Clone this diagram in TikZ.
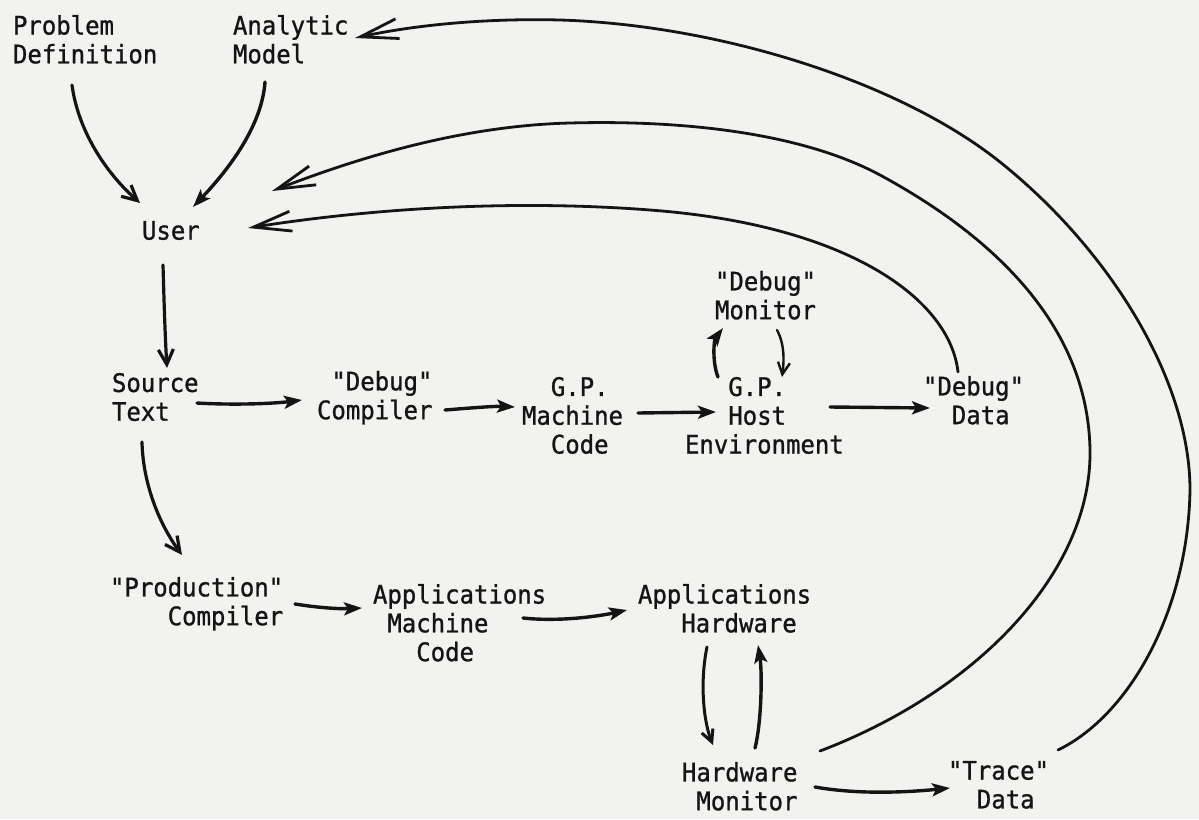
\documentclass[tikz,border=0pt]{standalone}
\usepackage{fontspec}
\newfontfamily\twfont[FakeStretch=0.94,FakeBold=1]{DejaVu Sans Mono}
\usetikzlibrary{arrows.meta,calc}
\definecolor{paper}{RGB}{242,242,240}
\definecolor{ink}{RGB}{20,20,20}
\newcommand{\chsp}[1]{\hphantom{#1}}
\tikzset{
  lbl/.style={font=\twfont\fontsize{25.5}{28.8}\selectfont, text=ink, align=left,
    anchor=north west, inner sep=0pt, outer sep=0pt},
  sarrow/.style={draw=ink, line width=3.4pt, line cap=round,
    -{Stealth[length=18pt,width=13pt,inset=4pt]}},
  barrow/.style={draw=ink, line width=3.2pt, line cap=round,
    -{Straight Barb[length=15pt,width=15pt]}},
  tarrow/.style={draw=ink, line width=2.4pt, line cap=round,
    -{Straight Barb[length=12pt,width=12pt]}},
  longcurve/.style={draw=ink, line width=2.8pt, line cap=round,
    -{Straight Barb[length=38pt,width=20pt]}},
}
\begin{document}
\begin{tikzpicture}[x=1pt,y=-1pt]
\path[fill=paper,use as bounding box] (0,0) rectangle (1199,819);

% nodes
\node[lbl] (pd)    at (13,15)  {Problem\\Definition};
\node[lbl] (am)    at (233,15) {Analytic\\Model};
\node[lbl] (user)  at (142,221) {User};
\node[lbl] (src)   at (112,373) {Source\\Text};
\node[lbl] (dc)    at (317,371) {\chsp{x}"Debug"\\Compiler};
\node[lbl] (gpm)   at (522,377) {\chsp{xx}G.P.\\Machine\\\chsp{xx}Code};
\node[lbl] (dmon)  at (715,271) {"Debug"\\Monitor};
\node[lbl] (host)  at (685,377) {\chsp{xxx}G.P.\\\chsp{xxx}Host\\Environment};
\node[lbl] (ddata) at (923,376) {"Debug"\\\chsp{xx}Data};
\node[lbl] (prod)  at (110,577) {"Production"\\\chsp{xxxx}Compiler};
\node[lbl] (amc)   at (373,584) {Applications\\\chsp{x}Machine\\\chsp{xxx}Code};
\node[lbl] (ahw)   at (638,584) {Applications\\\chsp{xxx}Hardware};
\node[lbl] (hmon)  at (682,762) {Hardware\\\chsp{x}Monitor};
\node[lbl] (trace) at (948,761) {"Trace"\\\chsp{xx}Data};

% short connectors
\draw[barrow] ($(pd.north west)+(59,70)$) .. controls (78,130) and (105,172) .. ($(user.north west)+(-2,-18)$);
\draw[sarrow] ($(am.north west)+(32,67)$) .. controls (262,125) and (230,168) .. ($(user.north west)+(51,-14)$);
\draw[barrow] ($(user.north west)+(21,44)$) .. controls (164,300) and (165,335) .. ($(src.north west)+(55,-5)$);
\draw[sarrow] ($(src.north west)+(85,30)$) .. controls (230,405) and (270,404) .. ($(dc.north west)+(-15,29)$);
\draw[sarrow] ($(dc.north west)+(128,39)$) .. controls (470,408) and (495,406) .. ($(gpm.north west)+(-7,30)$);
\draw[sarrow] ($(gpm.north west)+(116,36)$) -- ($(host.north west)+(31,35)$);
\draw[sarrow] ($(host.north west)+(33,0)$) .. controls (712,362) and (714,340) .. ($(dmon.north west)+(8,57)$);
\draw[tarrow] ($(dmon.north west)+(62,59)$) .. controls (785,345) and (784,362) .. ($(host.north west)+(97,0)$);
\draw[sarrow] ($(host.north west)+(145,30)$) -- ($(ddata.north west)+(7,32)$);
\draw[barrow] ($(src.north west)+(30,69)$) .. controls (143,485) and (160,525) .. ($(prod.north west)+(72,-22)$);
\draw[sarrow] ($(prod.north west)+(185,27)$) .. controls (320,608) and (340,609) .. ($(amc.north west)+(-11,24)$);
\draw[sarrow] ($(amc.north west)+(150,34)$) .. controls (560,622) and (600,616) .. ($(ahw.north west)+(-11,26)$);
\draw[tarrow,line width=3pt] ($(ahw.north west)+(69,63)$) .. controls (700,680) and (703,720) .. ($(hmon.north west)+(31,-17)$);
\draw[sarrow] ($(hmon.north west)+(73,-14)$) .. controls (762,720) and (762,670) .. ($(ahw.north west)+(120,61)$);
\draw[sarrow] ($(hmon.north west)+(133,25)$) .. controls (860,795) and (910,792) .. ($(trace.north west)+(2,27)$);

% long feedback curves
\draw[longcurve] ($(ddata.north west)+(35,-4)$)
  .. controls (950,300) and (850,225) .. (650,210)
  .. controls (480,197) and (330,215) .. ($(user.north west)+(106,7)$);
\draw[longcurve] ($(hmon.north west)+(138,-11)$)
  .. controls (980,690) and (1092,570) .. (1090,450)
  .. controls (1088,330) and (1000,240) .. (880,175)
  .. controls (800,132) and (680,120) .. (570,123)
  .. controls (450,126) and (340,165) .. ($(user.north west)+(130,-30)$);
\draw[longcurve] ($(trace.north west)+(110,-11)$)
  .. controls (1130,715) and (1188,610) .. (1190,490)
  .. controls (1190,380) and (1110,250) .. (1000,162)
  .. controls (900,82) and (720,25) .. (560,20)
  .. controls (480,18) and (410,26) .. ($(am.north west)+(122,23)$);
\end{tikzpicture}
\end{document}
